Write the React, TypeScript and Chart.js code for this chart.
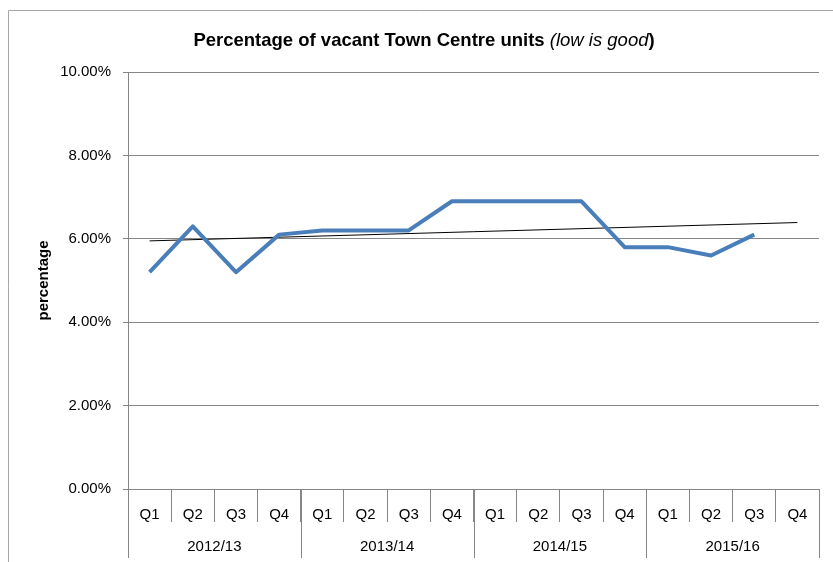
import React, { useEffect, useRef } from "react";
import { Chart, registerables } from "chart.js";

Chart.register(...registerables);

const quarters = ["Q1", "Q2", "Q3", "Q4", "Q1", "Q2", "Q3", "Q4", "Q1", "Q2", "Q3", "Q4", "Q1", "Q2", "Q3", "Q4"];
const years = ["2012/13", "2013/14", "2014/15", "2015/16"];
const vacancy: (number | null)[] = [5.2, 6.3, 5.2, 6.1, 6.2, 6.2, 6.2, 6.9, 6.9, 6.9, 6.9, 5.8, 5.8, 5.6, 6.1, null];
const trendStart = 5.95;
const trendEnd = 6.39;
const yMin = 0;
const yMax = 10;
const yStep = 2;

const FONT = "'Liberation Sans', Arial, sans-serif";
const GRID = "#868686";

const frameAndTitle = {
  id: "frameAndTitle",
  afterDraw(chart: any) {
    const ctx = chart.ctx as CanvasRenderingContext2D;
    const xs = chart.scales.x;
    const area = chart.chartArea;
    ctx.save();
    // outer frame
    ctx.strokeStyle = "#a6a6a6";
    ctx.lineWidth = 1;
    ctx.beginPath();
    ctx.moveTo(8.5, 562);
    ctx.lineTo(8.5, 10.5);
    ctx.lineTo(833, 10.5);
    ctx.stroke();

    // title with mixed styles
    const parts = [
      { t: "Percentage of vacant Town Centre units ", f: `bold 18.5px ${FONT}` },
      { t: "(low is good", f: `italic 18.5px ${FONT}` },
      { t: ")", f: `bold 18.5px ${FONT}` },
    ];
    let total = 0;
    const widths = parts.map((p) => {
      ctx.font = p.f;
      const w = ctx.measureText(p.t).width;
      total += w;
      return w;
    });
    let x = 424 - total / 2;
    ctx.fillStyle = "#000";
    ctx.textBaseline = "alphabetic";
    ctx.textAlign = "left";
    parts.forEach((p, i) => {
      ctx.font = p.f;
      ctx.fillText(p.t, x, 46);
      x += widths[i];
    });

    // group separators and labels
    const half = (xs.getPixelForValue(1) - xs.getPixelForValue(0)) / 2;
    ctx.strokeStyle = GRID;
    ctx.beginPath();
    const bounds: number[] = [];
    years.forEach((_, g) => bounds.push(xs.getPixelForValue(g * 4) - half));
    bounds.push(xs.getPixelForValue(quarters.length - 1) + half);
    bounds.forEach((b) => {
      const bx = Math.round(b) + 0.5;
      ctx.moveTo(bx, area.bottom);
      ctx.lineTo(bx, 558);
    });
    ctx.stroke();

    ctx.font = `15px ${FONT}`;
    ctx.fillStyle = "#000";
    ctx.textAlign = "center";
    ctx.textBaseline = "middle";
    years.forEach((y, g) => {
      const cx = (xs.getPixelForValue(g * 4) + xs.getPixelForValue(g * 4 + 3)) / 2;
      ctx.fillText(y, cx, 547);
    });
    ctx.restore();
  },
};

export default function App() {
  const ref = useRef<HTMLCanvasElement>(null);
  useEffect(() => {
    const last = quarters.length - 1;
    const trend = quarters.map((_, i) => (i === 0 ? trendStart : i === last ? trendEnd : null));
    const chart = new Chart(ref.current!, {
      type: "line",
      data: {
        labels: quarters,
        datasets: [
          {
            data: vacancy,
            borderColor: "#4A7EBB",
            borderWidth: 4,
            pointRadius: 0,
            tension: 0,
            borderJoinStyle: "round",
            borderCapStyle: "butt",
            spanGaps: false,
          },
          {
            data: trend,
            borderColor: "#000",
            borderWidth: 1,
            pointRadius: 0,
            spanGaps: true,
          },
        ],
      },
      options: {
        animation: false,
        responsive: false,
        devicePixelRatio: 1,
        layout: { padding: { top: 72, right: 14, left: 0, bottom: 0 } },
        plugins: { legend: { display: false }, tooltip: { enabled: false }, title: { display: false } },
        scales: {
          x: {
            type: "category",
            offset: true,
            grid: { offset: true, drawOnChartArea: false, drawTicks: true, tickLength: 33, color: GRID, lineWidth: 1 },
            border: { display: true, color: GRID },
            ticks: { font: { family: FONT, size: 15 }, color: "#000", padding: -16, autoSkip: false, maxRotation: 0 },
            afterFit: (s: any) => {
              s.height = 73;
            },
          },
          y: {
            min: yMin,
            max: yMax,
            ticks: {
              stepSize: yStep,
              font: { family: FONT, size: 15 },
              color: "#000",
              padding: 12,
              callback: (v: any) => Number(v).toFixed(2) + "%",
            },
            grid: { color: GRID, tickLength: 5, drawTicks: true, lineWidth: 1 },
            border: { display: true, color: GRID },
            title: {
              display: true,
              text: "percentage",
              font: { family: FONT, size: 15, weight: "bold" },
              color: "#000",
              padding: { top: 35, bottom: 0 },
            },
            afterFit: (s: any) => {
              s.width = 128;
            },
          },
        },
      },
      plugins: [frameAndTitle],
    } as any);
    return () => chart.destroy();
  }, []);
  return (
    <div style={{ position: "fixed", left: 0, top: 0, width: 833, height: 562, background: "#fff" }}>
      <canvas ref={ref} width={833} height={562} style={{ display: "block", width: 833, height: 562 }} />
    </div>
  );
}
